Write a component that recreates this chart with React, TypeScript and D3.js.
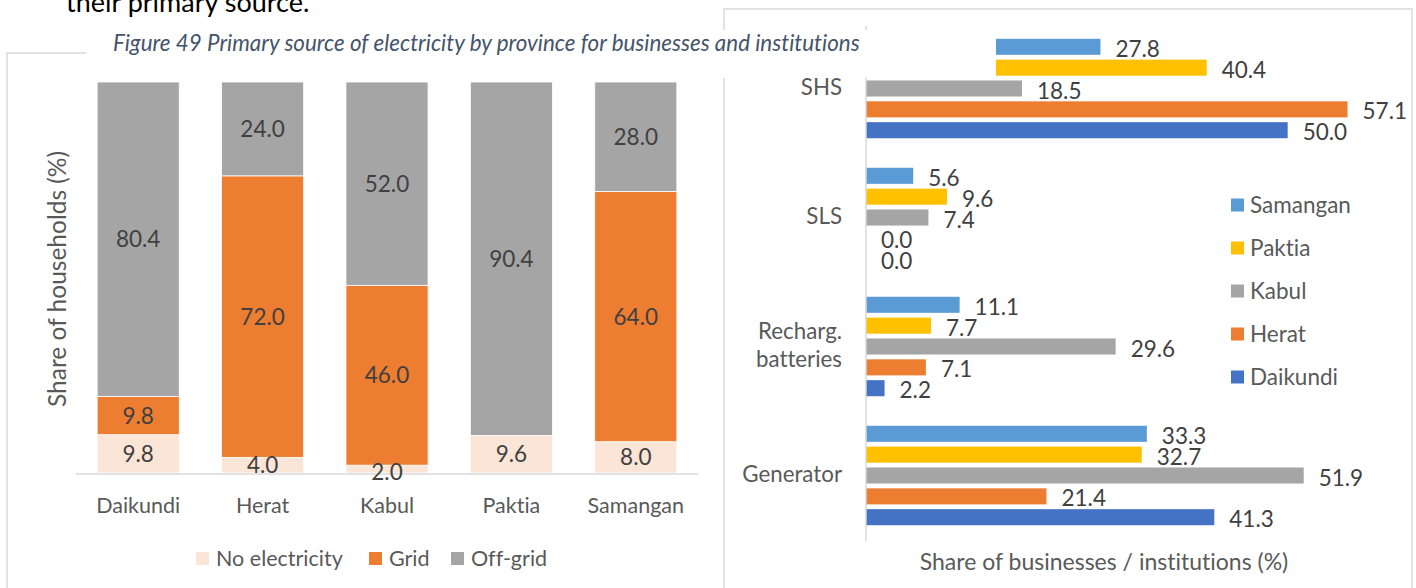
import * as React from "react";
import * as d3 from "d3";

// left panel: households by province (stacked, %)
const provinces = ["Daikundi", "Herat", "Kabul", "Paktia", "Samangan"];
const noElectricity = [9.8, 4.0, 2.0, 9.6, 8.0];
const grid = [9.8, 72.0, 46.0, 0.0, 64.0];
const offGrid = [80.4, 24.0, 52.0, 90.4, 28.0];
const stackKeys = ["No electricity", "Grid", "Off-grid"];
const stackColors = ["#FBE5D6", "#ED7D31", "#A5A5A5"];

// right panel: businesses / institutions by off-grid source
const sources = ["SHS", "SLS", "Recharg. batteries", "Generator"];
const seriesNames = ["Samangan", "Paktia", "Kabul", "Herat", "Daikundi"];
const samangan = [27.8, 5.6, 11.1, 33.3];
const paktia = [40.4, 9.6, 7.7, 32.7];
const kabul = [18.5, 7.4, 29.6, 51.9];
const herat = [57.1, 0.0, 7.1, 21.4];
const daikundi = [50.0, 0.0, 2.2, 41.3];
const seriesColors = ["#5B9BD5", "#FFC000", "#A5A5A5", "#ED7D31", "#4472C4"];

const FONT = "Lato, 'Open Sans', sans-serif";
const AXIS_TXT = "#595959";
const LABEL_TXT = "#404040";
const FRAME = "#D9D9D9";

function LeftChart() {
  const rows = provinces.map((p, i) => ({
    province: p,
    "No electricity": noElectricity[i],
    Grid: grid[i],
    "Off-grid": offGrid[i],
  }));
  const stacked = d3.stack<any>().keys(stackKeys)(rows);
  const x = d3.scaleBand().domain(provinces).range([76, 698]).paddingInner(0.34).paddingOuter(0.17);
  const y = d3.scaleLinear().domain([0, 100]).range([473, 82]);

  const legendX = [196, 369, 451];

  return (
    <g>
      {stacked.map((layer, li) => (
        <g key={layer.key}>
          {layer.map((d, i) => {
            const h = y(d[0]) - y(d[1]);
            if (h <= 0) return null;
            return (
              <rect
                key={i}
                x={x(provinces[i])}
                y={y(d[1])}
                width={x.bandwidth()}
                height={h}
                fill={stackColors[li]}
                stroke="#fff"
                strokeWidth={0.8}
              />
            );
          })}
        </g>
      ))}
      <line x1={76} x2={698} y1={474} y2={474} stroke="#D9D9D9" strokeWidth={1.5} />
      {stacked.map((layer) =>
        layer.map((d, i) => {
          const v = d[1] - d[0];
          if (v <= 0) return null;
          let cy = (y(d[0]) + y(d[1])) / 2;
          if (v < 3) cy = y(d[0]) - 1;
          return (
            <text
              key={layer.key + i}
              x={x(provinces[i])! + x.bandwidth() / 2}
              y={cy}
              dy="0.36em"
              textAnchor="middle"
              fontSize={22.5}
              fill={LABEL_TXT}
            >
              {v.toFixed(1)}
            </text>
          );
        })
      )}
      {provinces.map((p) => (
        <text key={p} x={x(p)! + x.bandwidth() / 2} y={505} dy="0.36em" textAnchor="middle" fontSize={21.5} fill={AXIS_TXT}>
          {p}
        </text>
      ))}
      <text
        transform="translate(57,279) rotate(-90)"
        textAnchor="middle"
        dy="0.36em"
        fontSize={24.5}
        fill={AXIS_TXT}
      >
        Share of households (%)
      </text>
      {stackKeys.map((k, i) => (
        <g key={k}>
          <rect x={legendX[i]} y={552} width={13} height={13} fill={stackColors[i]} />
          <text x={legendX[i] + 20} y={558} dy="0.36em" fontSize={21.5} fill={AXIS_TXT}>
            {k}
          </text>
        </g>
      ))}
    </g>
  );
}

function RightChart() {
  const values = [samangan, paktia, kabul, herat, daikundi];
  const x = d3.scaleLinear().domain([0, 60]).range([866, 1372]);
  const y0 = d3.scaleBand().domain(sources).range([24, 540]).paddingInner(0.229).paddingOuter(0.1145);
  const y1 = d3.scaleBand().domain(seriesNames).range([0, y0.bandwidth()]).paddingInner(0.23);

  return (
    <g>
      {sources.map((s, si) => (
        <g key={s} transform={`translate(0,${y0(s)})`}>
          {seriesNames.map((n, ni) => {
            const v = values[ni][si];
            const by = y1(n)!;
            return (
              <g key={n}>
                {v > 0 && (
                  <rect x={x(0)} y={by} width={x(v) - x(0)} height={y1.bandwidth()} fill={seriesColors[ni]} />
                )}
                <text
                  x={x(v) + 15}
                  y={by + y1.bandwidth() / 2 + 2}
                  dy="0.36em"
                  fontSize={22.5}
                  fill={LABEL_TXT}
                >
                  {v.toFixed(1)}
                </text>
              </g>
            );
          })}
        </g>
      ))}
      <line x1={866} x2={866} y1={26} y2={541} stroke="#D9D9D9" strokeWidth={1.5} />
      {sources.map((s) => {
        const cy = y0(s)! + y0.bandwidth() / 2;
        const parts = s === "Recharg. batteries" ? ["Recharg.", "batteries"] : [s];
        return (
          <text key={s} x={842} textAnchor="end" fontSize={22.3} fill={AXIS_TXT}>
            {parts.map((p, i) => (
              <tspan key={p} x={842} y={cy - 2 + (i - (parts.length - 1) / 2) * 28} dy="0.36em">
                {p}
              </tspan>
            ))}
          </text>
        );
      })}
      <text x={1104} y={562} dy="0.36em" textAnchor="middle" fontSize={23} fill={AXIS_TXT}>
        Share of businesses / institutions (%)
      </text>
      {seriesNames.map((n, i) => (
        <g key={n}>
          <rect x={1231} y={205 + i * 43 - 6.5} width={13} height={13} fill={seriesColors[i]} />
          <text x={1250} y={205 + i * 43} dy="0.36em" fontSize={22.5} fill={AXIS_TXT}>
            {n}
          </text>
        </g>
      ))}
    </g>
  );
}

export default function App() {
  return (
    <svg
      width={1416}
      height={588}
      style={{ position: "fixed", left: 0, top: 0, background: "#fff", fontFamily: FONT, fontVariantLigatures: "none" }}
    >
      <rect width={1416} height={588} fill="#fff" />
      {/* panel frames */}
      <path d="M7,600 V53 H723" fill="none" stroke={FRAME} strokeWidth={1.5} />
      <rect x={724} y={9} width={688} height={600} fill="none" stroke={FRAME} strokeWidth={1.5} />
      <RightChart />
      <LeftChart />
      {/* caption block sits over the charts */}
      <rect x={86} y={30} width={910} height={48} fill="#fff" />
      <text x={113} y={43} dy="0.36em" fontSize={22.4} fontStyle="italic" fill="#44546A">
        Figure 49 Primary source of electricity by province for businesses and institutions
      </text>
      <text x={66} y={12} fontSize={27} fill="#000">
        their primary source.
      </text>
    </svg>
  );
}
